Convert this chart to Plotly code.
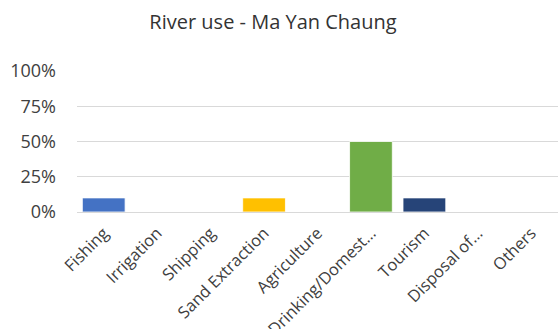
import plotly.graph_objects as go

categories = ["Fishing", "Irrigation", "Shipping", "Sand Extraction", "Agriculture",
              "Drinking/Domest…", "Tourism", "Disposal of…", "Others"]
shares = [0.10, 0.0, 0.0, 0.10, 0.0, 0.50, 0.10, 0.0, 0.0]
bar_colors = ["#4472C4", "#5B9BD5", "#A5A5A5", "#FFC000", "#ED7D31",
              "#70AD47", "#264478", "#9E480E", "#636363"]
y_ticks = [0, 0.25, 0.5, 0.75, 1.0]
y_tick_text = ["0%", "25%", "50%", "75%", "100%"]

fig = go.Figure(
    go.Bar(
        x=categories,
        y=shares,
        marker=dict(color=bar_colors, line=dict(color="#FFFFFF", width=0.8)),
        width=0.8,
    )
)

fig.update_layout(
    width=558,
    height=329,
    margin=dict(l=77, r=0, t=71, b=117),
    paper_bgcolor="white",
    plot_bgcolor="white",
    font=dict(family="Open Sans, Liberation Sans, sans-serif", color="#404040", size=16),
    title=dict(
        text="River use - Ma Yan Chaung",
        x=273 / 558, xanchor="center", xref="container",
        y=1 - 22 / 329, yanchor="middle", yref="container",
        font=dict(size=20, color="#333333"),
    ),
    showlegend=False,
    bargap=0.2,
)

fig.update_yaxes(
    range=[0, 1],
    tickvals=y_ticks,
    ticktext=y_tick_text,
    showgrid=True,
    gridcolor="#D9D9D9",
    gridwidth=1,
    zeroline=False,
    showline=False,
    ticks="",
    ticklabelstandoff=20,
    tickfont=dict(size=18, color="#404040"),
)

fig.update_xaxes(
    tickangle=-45,
    showline=True,
    linecolor="#D9D9D9",
    linewidth=1,
    ticks="",
    automargin=False,
    ticklabelstandoff=4,
    tickfont=dict(size=16.5, color="#404040"),
)

fig.write_html("out.html")
